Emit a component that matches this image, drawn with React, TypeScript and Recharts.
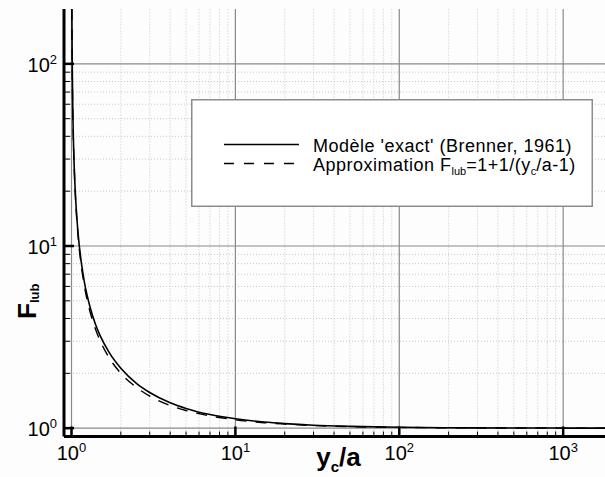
import React from "react";
import { LineChart, Line, XAxis, YAxis, ReferenceLine, Legend } from "recharts";

// distance to wall over radius
const yOverA = [1.005, 1.01, 1.02, 1.03, 1.05, 1.07, 1.1, 1.15, 1.2, 1.3, 1.4, 1.5, 1.7, 2, 2.5, 3, 4, 5, 7, 10, 15, 20, 30, 50, 100, 200, 500, 1000, 1800];
const exactF = [200, 101.9, 51.7, 35.0, 21.6, 15.8, 11.4, 8.02, 6.29, 4.6, 3.72, 3.2, 2.6, 2.135, 1.757, 1.57, 1.379, 1.284, 1.188, 1.126, 1.08, 1.059, 1.038, 1.023, 1.0113, 1.0056, 1.0022, 1.0011, 1.0006];
const approxF = [200, 101, 51, 34.3, 21, 15.3, 11, 7.67, 6, 4.33, 3.5, 3, 2.43, 2, 1.67, 1.5, 1.333, 1.25, 1.167, 1.111, 1.071, 1.053, 1.034, 1.02, 1.01, 1.005, 1.002, 1.001, 1.0006];

const X_MAJOR = [1, 10, 100, 1000];
const X_MINOR = [2, 3, 4, 5, 6, 7, 8, 9, 20, 30, 40, 50, 60, 70, 80, 90, 200, 300, 400, 500, 600, 700, 800, 900];
const Y_MAJOR = [1, 10, 100];
const Y_MINOR = [2, 3, 4, 5, 6, 7, 8, 9, 20, 30, 40, 50, 60, 70, 80, 90];

const SERIES_NAMES = ["Modèle 'exact' (Brenner, 1961)", "Approximation F"];

const data = yOverA.map((x, i) => ({ x, exact: exactF[i], approx: approxF[i] }));

const FONT = "'Liberation Sans', Arial, Helvetica, sans-serif";

const expOf = (v: number) => Math.round(Math.log10(v));

const BottomTick = (props: any) => {
  const { x, y, payload } = props;
  const major = X_MAJOR.includes(payload.value);
  return (
    <g>
      <line x1={x} x2={x} y1={y} y2={y - (major ? 10 : 5)} stroke="#000" strokeWidth={major ? 2.5 : 1} />
      {major && (
        <text x={x} y={y + 23.5} textAnchor="middle" fontSize={20} fontFamily={FONT} fill="#000">
          10<tspan dy={-8} fontSize={13}>{expOf(payload.value)}</tspan>
        </text>
      )}
    </g>
  );
};

const TopTick = (props: any) => {
  const { x, y, payload } = props;
  const major = X_MAJOR.includes(payload.value);
  return <line x1={x} x2={x} y1={y} y2={y + (major ? 10 : 5)} stroke="#000" strokeWidth={major ? 2.5 : 1} />;
};

const LeftTick = (props: any) => {
  const { x, y, payload } = props;
  const major = Y_MAJOR.includes(payload.value);
  return (
    <g>
      <line x1={x} x2={x + (major ? 10 : 6)} y1={y} y2={y} stroke="#000" strokeWidth={major ? 2.5 : 1} />
      {major && (
        <text x={x - 7} y={y + 8} textAnchor="end" fontSize={20} fontFamily={FONT} fill="#000">
          10<tspan dy={-8} fontSize={13}>{expOf(payload.value)}</tspan>
        </text>
      )}
    </g>
  );
};

const XTitle = (props: any) => {
  const vb = props.viewBox;
  return (
    <text x={vb.x + vb.width / 2 + 4} y={vb.y + 29.5} textAnchor="middle" fontSize={26} fontWeight="bold" fontFamily={FONT} fill="#000">
      y<tspan dy={6} fontSize={15}>c</tspan><tspan dy={-6}>/a</tspan>
    </text>
  );
};

const YTitle = (props: any) => {
  const vb = props.viewBox;
  const bx = vb.x + 36;
  const by = vb.y + 310;
  return (
    <text x={bx} y={by} transform={`rotate(-90, ${bx}, ${by})`} fontSize={26} fontWeight="bold" fontFamily={FONT} fill="#000">
      F<tspan dy={3} fontSize={13}>lub</tspan>
    </text>
  );
};

const LegendBox = () => (
  <svg width={402} height={108} style={{ display: "block" }}>
    <rect x={0.75} y={0.75} width={400.5} height={106.5} fill="#fff" stroke="#8c8c8c" strokeWidth={1.5} />
    <line x1={33} x2={108} y1={45.5} y2={45.5} stroke="#000" strokeWidth={1.5} />
    <text x={122} y={53} fontSize={18} letterSpacing={0.5} fontFamily={FONT} fill="#000">{SERIES_NAMES[0]}</text>
    <line x1={33} x2={108} y1={64.5} y2={64.5} stroke="#000" strokeWidth={1.5} strokeDasharray="10 10" />
    <text x={122} y={72} fontSize={18} letterSpacing={0.5} fontFamily={FONT} fill="#000">
      {SERIES_NAMES[1]}
      <tspan dy={4} fontSize={11} letterSpacing={0}>lub</tspan>
      <tspan dy={-4}>=1+1/(y</tspan>
      <tspan dy={4} fontSize={11} letterSpacing={0}>c</tspan>
      <tspan dy={-4}>/a-1)</tspan>
    </text>
  </svg>
);

export default function App() {
  return (
    <div style={{ position: "absolute", left: 0, top: 0, width: 605, height: 477, background: "#fdfdfd", overflow: "hidden" }}>
      <LineChart width={605} height={477} data={data} margin={{ top: 9, right: 0, bottom: 0, left: 0 }} style={{ fontFamily: FONT }}>
        {X_MINOR.map((v) => (
          <ReferenceLine key={"xm" + v} xAxisId="b" yAxisId="l" x={v} stroke="#c8c8c8" strokeDasharray="1 2" />
        ))}
        {Y_MINOR.map((v) => (
          <ReferenceLine key={"ym" + v} xAxisId="b" yAxisId="l" y={v} stroke="#c8c8c8" strokeDasharray="1 2" />
        ))}
        {X_MAJOR.map((v) => (
          <ReferenceLine key={"xM" + v} xAxisId="b" yAxisId="l" x={v} stroke="#8a8a8a" strokeWidth={1.2} />
        ))}
        {Y_MAJOR.map((v) => (
          <ReferenceLine key={"yM" + v} xAxisId="b" yAxisId="l" y={v} stroke="#8a8a8a" strokeWidth={1.2} />
        ))}
        <XAxis
          xAxisId="b"
          dataKey="x"
          type="number"
          scale="log"
          domain={[0.9, 1800]}
          allowDataOverflow
          ticks={[...X_MAJOR, ...X_MINOR]}
          interval={0}
          tick={<BottomTick />}
          tickLine={false}
          tickSize={0}
          tickMargin={0}
          axisLine={{ stroke: "#000", strokeWidth: 3 }}
          height={40.5}
          label={{ content: XTitle }}
        />
        <XAxis
          xAxisId="t"
          orientation="top"
          dataKey="x"
          type="number"
          scale="log"
          domain={[0.9, 1800]}
          allowDataOverflow
          ticks={[...X_MAJOR, ...X_MINOR]}
          interval={0}
          tick={<TopTick />}
          tickLine={false}
          tickSize={0}
          tickMargin={0}
          axisLine={{ stroke: "#000", strokeWidth: 3 }}
          height={0}
        />
        <YAxis
          yAxisId="l"
          type="number"
          scale="log"
          domain={[0.9, 200]}
          allowDataOverflow
          ticks={[...Y_MAJOR, ...Y_MINOR]}
          interval={0}
          tick={<LeftTick />}
          tickLine={false}
          tickSize={0}
          tickMargin={0}
          axisLine={{ stroke: "#000", strokeWidth: 3 }}
          width={64}
          label={{ content: YTitle }}
        />
        <Legend
          layout="horizontal"
          verticalAlign="middle"
          align="center"
          wrapperStyle={{ position: "absolute", left: 191, top: 99, width: 402, height: 108, margin: 0, padding: 0 }}
          content={<LegendBox />}
        />
        <Line xAxisId="b" yAxisId="l" type="monotone" dataKey="exact" stroke="#000" strokeWidth={1.6} dot={false} isAnimationActive={false} />
        <Line xAxisId="b" yAxisId="l" type="monotone" dataKey="approx" stroke="#000" strokeWidth={1.4} strokeDasharray="11 9" dot={false} isAnimationActive={false} />
      </LineChart>
    </div>
  );
}
